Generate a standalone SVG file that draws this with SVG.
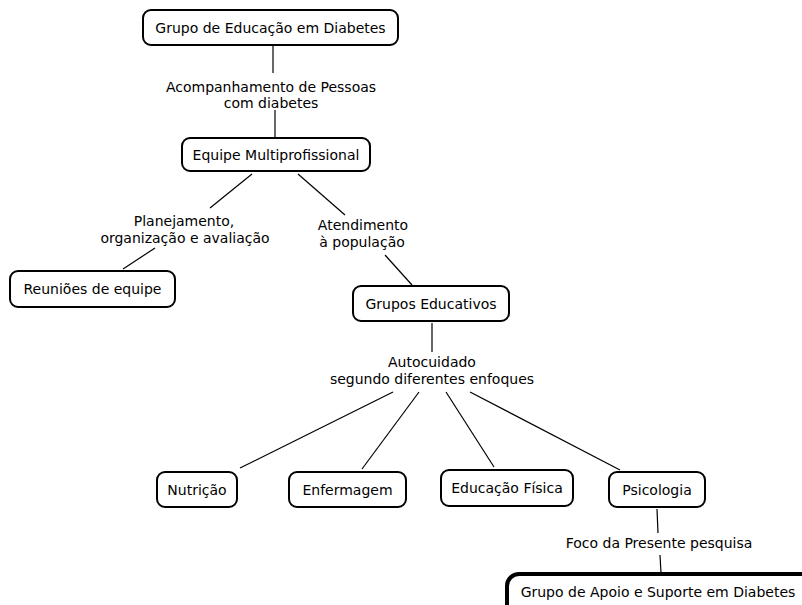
<svg xmlns="http://www.w3.org/2000/svg" width="802" height="605" viewBox="0 0 802 605">
<style>
.box{fill:#fff;stroke:#000;stroke-width:2}
.thick{fill:#fff;stroke:#000;stroke-width:4}
text{font-family:"DejaVu Sans",Verdana,sans-serif;font-size:14px;fill:#000;text-anchor:middle}
.c line{stroke:#000;stroke-width:1.2}
</style>
<rect width="802" height="605" fill="#fff"/>
<g class="c" id="connectors">
<line x1="273" y1="45" x2="273" y2="73"/>
<line x1="275" y1="110" x2="275" y2="138"/>
<line x1="252" y1="174" x2="210" y2="208"/>
<line x1="298" y1="174" x2="345" y2="215"/>
<line x1="155" y1="248" x2="123" y2="269"/>
<line x1="385" y1="255" x2="412" y2="285"/>
<line x1="432" y1="323" x2="432" y2="352"/>
<line x1="393" y1="392" x2="240" y2="468"/>
<line x1="419" y1="392" x2="362" y2="469"/>
<line x1="446" y1="392" x2="494" y2="467"/>
<line x1="470" y1="392" x2="620" y2="470"/>
<line x1="657" y1="509" x2="658" y2="533"/>
<line x1="660" y1="555" x2="661" y2="573"/>
</g>
<g id="lbl1"><text x="271" y="92">Acompanhamento de Pessoas</text><text x="271" y="108">com diabetes</text></g>
<g id="lbl2"><text x="184" y="226">Planejamento,</text><text x="185" y="243">organização e avaliação</text></g>
<g id="lbl3"><text x="363" y="230">Atendimento</text><text x="362" y="247">à população</text></g>
<g id="lbl4"><text x="432" y="367">Autocuidado</text><text x="432" y="384">segundo diferentes enfoques</text></g>
<g id="lbl5"><text x="659" y="548">Foco da Presente pesquisa</text></g>
<g id="n1"><rect class="box" x="143" y="10" width="255" height="35" rx="8"/><text x="270.5" y="32.5">Grupo de Educação em Diabetes</text></g>
<g id="n2"><rect class="box" x="182" y="138" width="188" height="33" rx="8"/><text x="276" y="159.5">Equipe Multiprofissional</text></g>
<g id="n3"><rect class="box" x="10" y="271" width="165" height="36" rx="8"/><text x="92.5" y="294">Reuniões de equipe</text></g>
<g id="n4"><rect class="box" x="353" y="286" width="156" height="35" rx="8"/><text x="431" y="308.5">Grupos Educativos</text></g>
<g id="n5"><rect class="box" x="157" y="472" width="80" height="35" rx="8"/><text x="197" y="494.5">Nutrição</text></g>
<g id="n6"><rect class="box" x="289" y="472" width="117" height="35" rx="8"/><text x="347.5" y="494.5">Enfermagem</text></g>
<g id="n7"><rect class="box" x="441" y="470" width="132" height="36" rx="8"/><text x="507" y="493">Educação Física</text></g>
<g id="n8"><rect class="box" x="609" y="472" width="96" height="35" rx="8"/><text x="657" y="494.5">Psicologia</text></g>
<g id="n9"><rect class="thick" x="507" y="574" width="310" height="45" rx="12"/><text x="658" y="597">Grupo de Apoio e Suporte em Diabetes</text></g>
</svg>
